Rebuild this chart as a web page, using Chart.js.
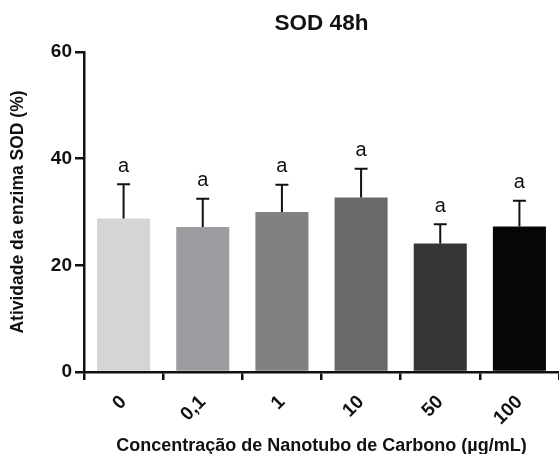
<!DOCTYPE html>
<html>
<head>
<meta charset="utf-8">
<script src="https://cdn.jsdelivr.net/npm/chart.js@4/dist/chart.umd.min.js"></script>
<style>
  html, body { margin: 0; padding: 0; background: #fff; overflow: hidden; }
  #wrap { width: 559px; height: 454px; }
</style>
</head>
<body>
<div id="wrap"><canvas id="sodChart" width="559" height="454"></canvas></div>
<script>
  const concentrations = ['0', '0,1', '1', '10', '50', '100'];
  const sodMeans = [28.8, 27.2, 30.0, 32.7, 24.1, 27.3];
  const sodErrors = [6.4, 5.3, 5.1, 5.4, 3.6, 4.8];
  const groupLetters = ['a', 'a', 'a', 'a', 'a', 'a'];
  const yTicks = [0, 20, 40, 60];

  const barColors = ['#d5d5d7', '#9d9da1', '#818182', '#69696a', '#353536', '#060606'];
  const fontFamily = '"Liberation Sans", Arial, Helvetica, sans-serif';

  // error bars + significance letters on top of each bar
  const errorBars = {
    id: 'errorBars',
    afterDatasetsDraw(chart) {
      const { ctx, scales: { x, y } } = chart;
      ctx.save();
      ctx.strokeStyle = '#111';
      ctx.lineWidth = 2;
      sodMeans.forEach((m, i) => {
        const cx = x.getPixelForValue(i);
        const yTop = y.getPixelForValue(m + sodErrors[i]);
        const yBar = y.getPixelForValue(m);
        ctx.beginPath();
        ctx.moveTo(cx, yBar);
        ctx.lineTo(cx, yTop);
        ctx.moveTo(cx - 6.5, yTop);
        ctx.lineTo(cx + 6.5, yTop);
        ctx.stroke();
        ctx.fillStyle = '#111';
        ctx.font = '20px ' + fontFamily;
        ctx.textAlign = 'center';
        ctx.textBaseline = 'middle';
        ctx.fillText(groupLetters[i], cx, yTop - 18);
      });
      ctx.restore();
    }
  };

  new Chart(document.getElementById('sodChart'), {
    type: 'bar',
    data: {
      labels: concentrations,
      datasets: [{
        data: sodMeans,
        backgroundColor: barColors,
        borderWidth: 0,
        categoryPercentage: 1,
        barPercentage: 0.67
      }]
    },
    options: {
      responsive: false,
      animation: false,
      devicePixelRatio: 1,
      layout: { padding: { left: 0, right: 0, top: 0, bottom: 0 } },
      plugins: {
        legend: { display: false },
        tooltip: { enabled: false },
        title: {
          display: true,
          text: 'SOD 48h',
          fullSize: false,
          color: '#111',
          font: { family: fontFamily, size: 22.5, weight: 'bold' },
          padding: { top: 10, bottom: 15 }
        }
      },
      scales: {
        x: {
          grid: { display: true, drawOnChartArea: false, drawTicks: true, tickLength: 8, color: '#111', lineWidth: 2.5 },
          border: { display: true, color: '#111', width: 2.5 },
          ticks: {
            color: '#111',
            maxRotation: 45, minRotation: 45,
            padding: 11,
            font: { family: fontFamily, size: 19, weight: 'bold' }
          },
          title: {
            display: true,
            text: 'Concentração de Nanotubo de Carbono (µg/mL)',
            color: '#111',
            font: { family: fontFamily, size: 18, weight: 'bold' },
            padding: { top: 4, bottom: -3 }
          },
          afterFit(scale) { scale.height = 82; }
        },
        y: {
          min: 0, max: 60,
          afterBuildTicks(scale) { scale.ticks = yTicks.map(v => ({ value: v })); },
          grid: { display: true, drawOnChartArea: false, drawTicks: true, tickLength: 9, color: '#111', lineWidth: 2.5 },
          border: { display: true, color: '#111', width: 2.5 },
          ticks: {
            color: '#111',
            padding: 3,
            font: { family: fontFamily, size: 19, weight: 'bold' }
          },
          title: {
            display: true,
            text: 'Atividade da enzima SOD (%)',
            color: '#111',
            font: { family: fontFamily, size: 17.5, weight: 'bold' },
            padding: { top: 8, bottom: 4 }
          },
          afterFit(scale) { scale.width = 84; }
        }
      }
    },
    plugins: [errorBars]
  });
</script>
</body>
</html>
